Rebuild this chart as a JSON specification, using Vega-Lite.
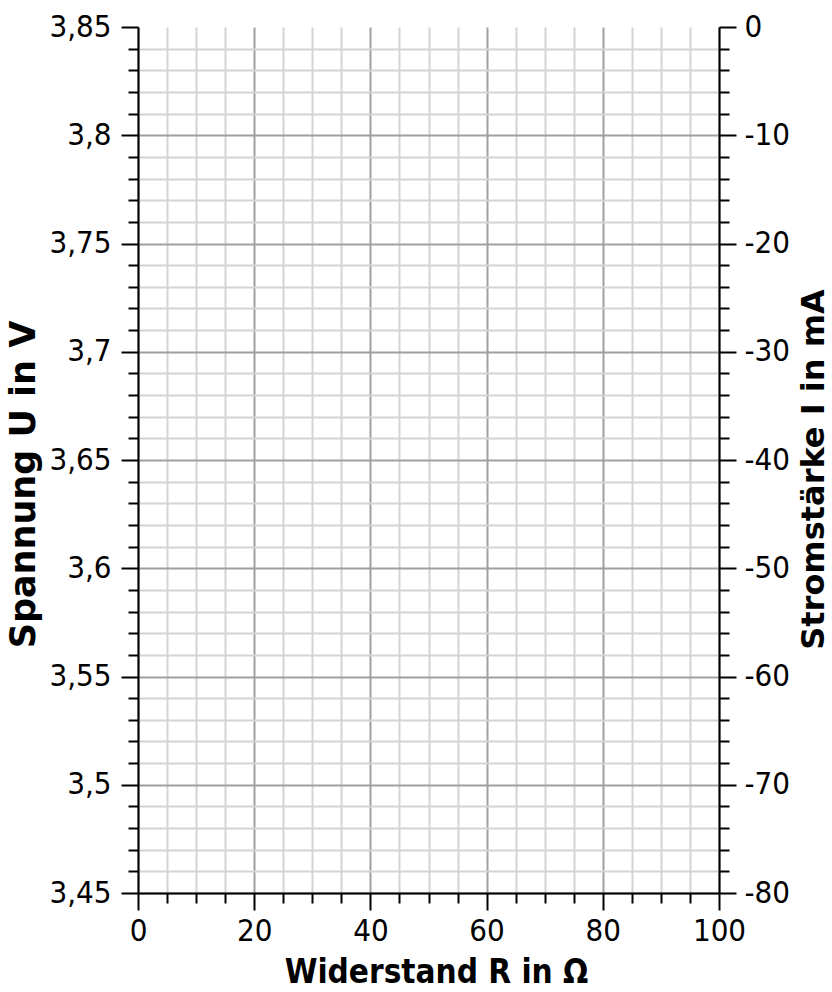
{
  "$schema": "https://vega.github.io/schema/vega-lite/v6.json",
  "width": 581,
  "height": 866,
  "autosize": {"type": "none"},
  "padding": {"left": 138, "top": 27, "right": 113, "bottom": 99},
  "background": "white",
  "config": {
    "view": {"stroke": null},
    "axis": {
      "labelFont": "DejaVu Sans Condensed",
      "labelFontSize": 31,
      "labelColor": "black",
      "labelFlush": false,
      "labelOverlap": false,
      "titleFont": "DejaVu Sans",
      "titleFontSize": 30,
      "titleFontWeight": "bold",
      "titleColor": "black",
      "tickColor": "black",
      "tickWidth": 2,
      "domainColor": "black",
      "domainWidth": 2,
      "gridWidth": 2
    }
  },
  "data": {"values": [
    {"R": 0, "U": 3.45, "I": -80},
    {"R": 100, "U": 3.85, "I": 0}
  ]},
  "layer": [
    {
      "mark": {"type": "point", "opacity": 0},
      "encoding": {
        "x": {"field": "R", "type": "quantitative", "scale": {"domain": [0, 100], "nice": false},
          "axis": {"orient": "bottom", "values": [5,10,15,25,30,35,45,50,55,65,70,75,85,90,95], "tickSize": 10, "labels": false, "domain": false, "title": null, "grid": true, "gridColor": "#d4d4d4"}},
        "y": {"field": "U", "type": "quantitative", "scale": {"domain": [3.45, 3.85], "nice": false, "zero": false},
          "axis": {"orient": "left", "values": [3.46,3.47,3.48,3.49,3.51,3.52,3.53,3.54,3.56,3.57,3.58,3.59,3.61,3.62,3.63,3.64,3.66,3.67,3.68,3.69,3.71,3.72,3.73,3.74,3.76,3.77,3.78,3.79,3.81,3.82,3.83,3.84], "tickSize": 10, "labels": false, "domain": false, "title": null, "grid": true, "gridColor": "#d4d4d4"}}
      }
    },
    {
      "mark": {"type": "point", "opacity": 0},
      "encoding": {
        "x": {"field": "R", "type": "quantitative", "scale": {"domain": [0, 100], "nice": false},
          "axis": {"orient": "bottom", "values": [0,20,40,60,80,100], "tickSize": 17, "labelPadding": 6, "title": "Widerstand R in Ω", "titleFont": "DejaVu Sans Condensed", "titleFontSize": 33, "titlePadding": 10, "titleX": 298, "grid": true, "gridColor": "#a0a0a0"}},
        "y": {"field": "U", "type": "quantitative", "scale": {"domain": [3.45, 3.85], "nice": false, "zero": false},
          "axis": {"orient": "left", "values": [3.45,3.5,3.55,3.6,3.65,3.7,3.75,3.8,3.85], "tickSize": 17, "labelPadding": 10,
            "labelExpr": "replace(toString(datum.value), '.', ',')",
            "title": "Spannung U in V", "titleFontSize": 35, "titlePadding": 7, "titleY": 457, "grid": true, "gridColor": "#a0a0a0",
            "gridOpacity": {"condition": {"test": "datum.value > 3.849", "value": 0}, "value": 1}}}
      }
    },
    {
      "mark": {"type": "point", "opacity": 0},
      "encoding": {
        "x": {"field": "R", "type": "quantitative", "scale": {"domain": [0, 100], "nice": false}, "axis": null},
        "y": {"field": "I", "type": "quantitative", "scale": {"domain": [-80, 0], "nice": false},
          "axis": {"orient": "right", "values": [-78,-76,-74,-72,-68,-66,-64,-62,-58,-56,-54,-52,-48,-46,-44,-42,-38,-36,-34,-32,-28,-26,-24,-22,-18,-16,-14,-12,-8,-6,-4,-2], "tickSize": 10, "labels": false, "domain": false, "title": null, "grid": false}}
      }
    },
    {
      "mark": {"type": "point", "opacity": 0},
      "encoding": {
        "x": {"field": "R", "type": "quantitative", "scale": {"domain": [0, 100], "nice": false}, "axis": null},
        "y": {"field": "I", "type": "quantitative", "scale": {"domain": [-80, 0], "nice": false},
          "axis": {"orient": "right", "values": [-80,-70,-60,-50,-40,-30,-20,-10,0], "tickSize": 17, "labelPadding": 8,
            "labelExpr": "toString(datum.value)",
            "title": "Stromstärke I in mA", "titleFontSize": 32, "titleAngle": -90, "titleBaseline": "top", "titlePadding": 9, "titleY": 442, "grid": false}}
      }
    }
  ],
  "resolve": {"scale": {"y": "independent"}, "axis": {"x": "independent", "y": "independent"}}
}
